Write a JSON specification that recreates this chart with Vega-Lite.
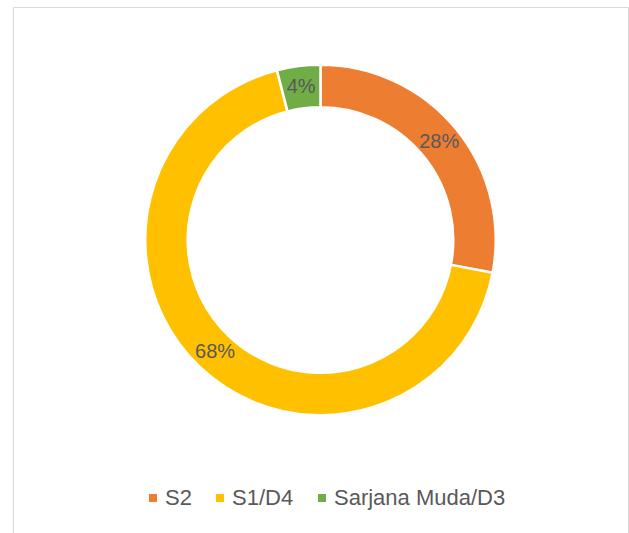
{
  "$schema": "https://vega.github.io/schema/vega-lite/v6.json",
  "width": 615,
  "height": 526,
  "padding": {"left": 13, "top": 7, "right": 1, "bottom": 0},
  "autosize": {"type": "none"},
  "background": "white",
  "view": {"stroke": "#d9d9d9", "strokeWidth": 1},
  "config": {
    "view": {"stroke": "#d9d9d9", "strokeWidth": 1},
    "font": "Liberation Sans",
    "legend": {
      "orient": "none",
      "legendX": 129,
      "legendY": 480,
      "direction": "horizontal",
      "columns": 3,
      "symbolType": "square",
      "symbolSize": 64,
      "symbolStrokeWidth": 0,
      "labelFontSize": 22,
      "labelColor": "#595959",
      "labelFont": "Liberation Sans",
      "labelOffset": 1,
      "labelLimit": 400,
      "columnPadding": 17,
      "padding": 0,
      "title": null
    }
  },
  "data": {
    "values": [
      {"category": "S2", "count": 7, "label": "28%", "idx": 1},
      {"category": "S1/D4", "count": 17, "label": "68%", "idx": 2},
      {"category": "Sarjana Muda/D3", "count": 1, "label": "4%", "idx": 3}
    ]
  },
  "encoding": {
    "theta": {"field": "count", "type": "quantitative", "stack": true},
    "order": {"field": "idx", "type": "quantitative"}
  },
  "layer": [
    {
      "mark": {"type": "arc", "outerRadius": 175.25, "innerRadius": 132.75, "stroke": "white", "strokeWidth": 2.5, "yOffset": -30},
      "encoding": {
        "color": {
          "field": "category",
          "type": "nominal",
          "scale": {"domain": ["S2", "S1/D4", "Sarjana Muda/D3"], "range": ["#ED7D31", "#FFC000", "#70AD47"]},
          "legend": {"title": null}
        }
      }
    },
    {
      "mark": {"type": "text", "radius": 154, "fontSize": 20, "fill": "#595959", "font": "Liberation Sans", "yOffset": -30},
      "encoding": {"text": {"field": "label", "type": "nominal"}}
    }
  ]
}
